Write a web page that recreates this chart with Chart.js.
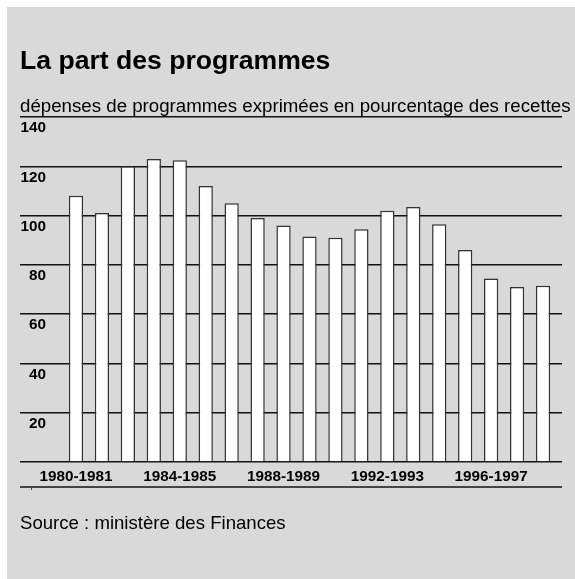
<!DOCTYPE html>
<html>
<head>
<meta charset="utf-8">
<script src="https://cdn.jsdelivr.net/npm/chart.js@4"></script>
<style>
  body { margin: 0; background: #fff; font-family: "Liberation Sans", Arial, Helvetica, sans-serif; }
  #box { position: absolute; left: 7px; top: 7px; width: 568px; height: 572px; background: #d9d9d9; }
  #c { position: absolute; left: 0; top: 0; }
  .txt { position: absolute; left: 20px; color: #000; white-space: nowrap; }
  #title { top: 47px; font-size: 26.6px; line-height: 26.6px; font-weight: bold; }
  #sub { top: 97px; font-size: 18.7px; line-height: 18.7px; }
  #src { top: 514px; font-size: 18.6px; line-height: 18.6px; }
  #rule { position: absolute; left: 20px; top: 486px; width: 542px; height: 2px; background: #444; }
  #nub { position: absolute; left: 31px; top: 487px; width: 1px; height: 3px; background: #444; }
</style>
</head>
<body>
<div id="box"></div>
<canvas id="c" width="575" height="579"></canvas>
<div class="txt" id="title">La part des programmes</div>
<div class="txt" id="sub">dépenses de programmes exprimées en pourcentage des recettes</div>
<div id="rule"></div>
<div id="nub"></div>
<div class="txt" id="src">Source : ministère des Finances</div>
<script>
const years = [
  "1980-1981", "1981-1982", "1982-1983", "1983-1984", "1984-1985",
  "1985-1986", "1986-1987", "1987-1988", "1988-1989", "1989-1990",
  "1990-1991", "1991-1992", "1992-1993", "1993-1994", "1994-1995",
  "1995-1996", "1996-1997", "1997-1998", "1998-1999"
];
const shares = [108, 101, 120, 123, 122.5, 112, 105, 99, 96, 91.5, 91, 94.5, 102, 103.5, 96.5, 86, 74.5, 71, 71.5];
const yTicks = [0, 20, 40, 60, 80, 100, 120, 140];

const tickFont = { family: "'Liberation Sans', Arial, sans-serif", size: 15.3, weight: "bold" };

new Chart(document.getElementById("c"), {
  type: "bar",
  data: {
    labels: years,
    datasets: [{
      data: shares,
      backgroundColor: "#ffffff",
      borderColor: "#333333",
      borderWidth: 1.5,
      categoryPercentage: 1,
      barPercentage: 0.55
    }]
  },
  options: {
    responsive: false,
    animation: false,
    devicePixelRatio: 1,
    layout: { padding: { left: 20, right: 13, top: 117, bottom: 87 } },
    plugins: { legend: { display: false }, tooltip: { enabled: false } },
    scales: {
      x: {
        grid: { display: false, drawTicks: false },
        border: { display: false },
        ticks: {
          autoSkip: false,
          maxRotation: 0,
          padding: 6,
          color: "#000",
          font: tickFont,
          callback: function (v, i) { return i % 4 === 0 ? this.getLabelForValue(v) : ""; }
        },
        afterFit: s => { s.height = 30; }
      },
      y: {
        min: yTicks[0],
        max: yTicks[yTicks.length - 1],
        afterBuildTicks: s => { s.ticks = yTicks.map(v => ({ value: v })); },
        grid: { color: "#111111", lineWidth: 1.5, tickLength: 43 },
        border: { display: false },
        ticks: {
          padding: -26,
          labelOffset: 11,
          color: "#000",
          font: tickFont,
          callback: v => (v === 0 ? "" : v)
        },
        afterFit: s => { s.width = 43; }
      },
      y2: {
        position: "right",
        min: yTicks[0],
        max: yTicks[yTicks.length - 1],
        afterBuildTicks: s => { s.ticks = yTicks.map(v => ({ value: v })); },
        grid: { color: "#111111", lineWidth: 1.5, tickLength: 6, drawOnChartArea: false },
        border: { display: false },
        ticks: { display: false },
        afterFit: s => { s.width = 6; }
      }
    }
  }
});
</script>
</body>
</html>
